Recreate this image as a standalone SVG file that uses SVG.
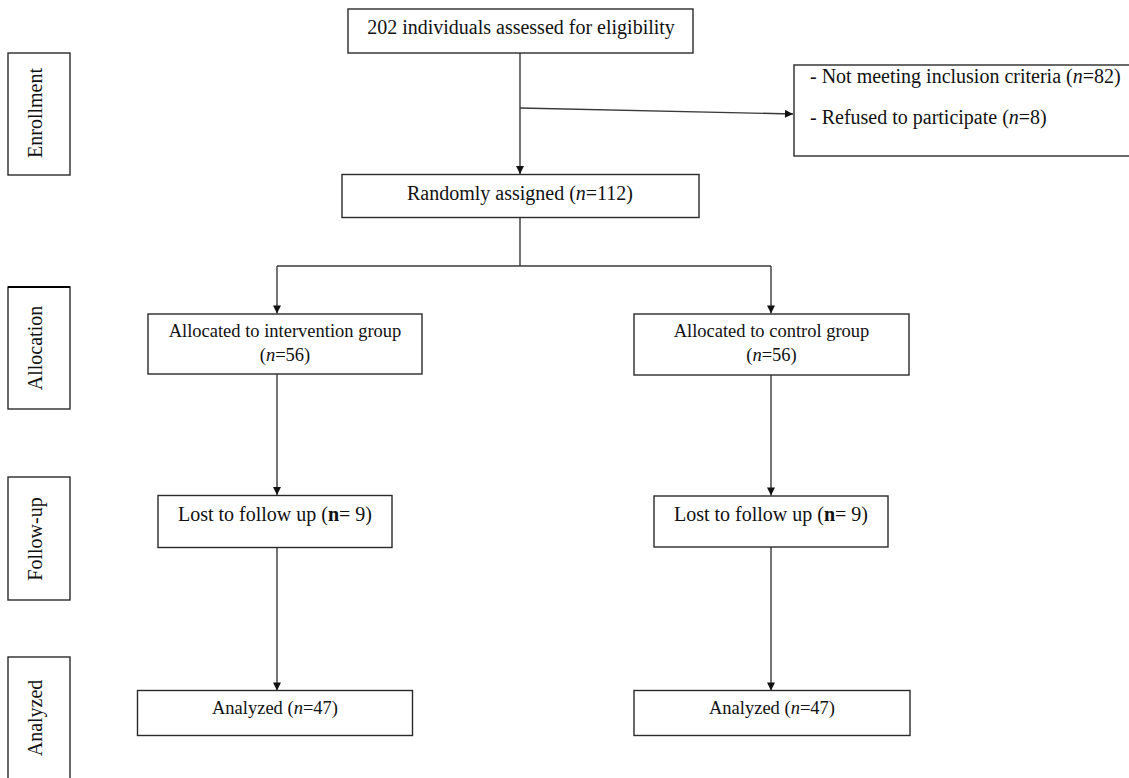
<svg xmlns="http://www.w3.org/2000/svg" width="1129" height="778" viewBox="0 0 1129 778">
<defs>
<style>
.box{fill:#fff;stroke:#2a2a2a;stroke-width:1.4}
.side{fill:#fff;stroke:#2a2a2a;stroke-width:1.4}
.t{font-family:"Liberation Serif","Times New Roman",serif;fill:#111;text-anchor:middle}
.t20{font-size:20px}
.t18{font-size:18.5px}
.lbl{font-family:"Liberation Serif","Times New Roman",serif;font-size:20px;fill:#111;text-anchor:middle}
.c{fill:none;stroke:#3a3a3a;stroke-width:1.4}
</style>
<marker id="arr" viewBox="0 0 10 10" refX="10" refY="5" markerWidth="9" markerHeight="8" markerUnits="userSpaceOnUse" orient="auto">
<path d="M0,0 L10,5 L0,10 z" fill="#111"/>
</marker>
</defs>
<rect width="1129" height="778" fill="#fff"/>

<g id="connectors">
<line class="c" x1="520" y1="53" x2="520" y2="174" marker-end="url(#arr)"/>
<line class="c" x1="520" y1="108" x2="793" y2="114" marker-end="url(#arr)"/>
<polyline class="c" points="520,217 520,266"/>
<polyline class="c" points="277,266 771,266"/>
<line class="c" x1="277" y1="266" x2="277" y2="313.5" marker-end="url(#arr)"/>
<line class="c" x1="771" y1="266" x2="771" y2="313.5" marker-end="url(#arr)"/>
<line class="c" x1="277" y1="374" x2="277" y2="495" marker-end="url(#arr)"/>
<line class="c" x1="771" y1="375" x2="771" y2="495.5" marker-end="url(#arr)"/>
<line class="c" x1="277" y1="547" x2="277" y2="690.5" marker-end="url(#arr)"/>
<line class="c" x1="771" y1="547" x2="771" y2="690.5" marker-end="url(#arr)"/>
</g>

<g id="stage-enrollment">
<rect class="side" x="8" y="53" width="62" height="122"/>
<text class="lbl" transform="translate(42,113) rotate(-90)">Enrollment</text>
</g>
<g id="stage-allocation">
<rect class="side" x="8" y="287" width="62" height="122"/>
<line x1="8" y1="287" x2="70" y2="287" stroke="#000" stroke-width="2"/>
<text class="lbl" transform="translate(42,348) rotate(-90)">Allocation</text>
</g>
<g id="stage-followup">
<rect class="side" x="8" y="477" width="62" height="123"/>
<text class="lbl" transform="translate(42,539) rotate(-90)">Follow-up</text>
</g>
<g id="stage-analyzed">
<rect class="side" x="8" y="657" width="62" height="140"/>
<text class="lbl" transform="translate(42,718) rotate(-90)">Analyzed</text>
</g>

<g id="node-assessed">
<rect class="box" x="348" y="9" width="345" height="44"/>
<text class="t t20" x="521" y="34">202 individuals assessed for eligibility</text>
</g>

<g id="node-excluded">
<rect class="box" x="794" y="65" width="345" height="91"/>
<text class="t t20" x="810" y="83" style="text-anchor:start">- Not meeting inclusion criteria (<tspan font-style="italic">n</tspan>=82)</text>
<text class="t t20" x="810" y="124" style="text-anchor:start">- Refused to participate (<tspan font-style="italic">n</tspan>=8)</text>
</g>

<g id="node-randomized">
<rect class="box" x="342" y="174.5" width="357" height="43"/>
<text class="t t20" x="520" y="200">Randomly assigned (<tspan font-style="italic">n</tspan>=112)</text>
</g>

<g id="node-intervention">
<rect class="box" x="148" y="314" width="274" height="60"/>
<text class="t t18" x="285" y="337">Allocated to intervention group</text>
<text class="t t18" x="285" y="361">(<tspan font-style="italic">n</tspan>=56)</text>
</g>

<g id="node-control">
<rect class="box" x="634" y="314" width="275" height="61"/>
<text class="t t18" x="771.5" y="337">Allocated to control group</text>
<text class="t t18" x="771.5" y="361">(<tspan font-style="italic">n</tspan>=56)</text>
</g>

<g id="node-lost-intervention">
<rect class="box" x="158" y="495.5" width="234" height="52"/>
<text class="t t20" x="275" y="521">Lost to follow up (<tspan font-weight="bold">n</tspan>= 9)</text>
</g>

<g id="node-lost-control">
<rect class="box" x="654" y="496" width="234" height="51"/>
<text class="t t20" x="771" y="521">Lost to follow up (<tspan font-weight="bold">n</tspan>= 9)</text>
</g>

<g id="node-analyzed-intervention">
<rect class="box" x="137.5" y="690.5" width="275" height="45"/>
<text class="t t18" x="275" y="714">Analyzed (<tspan font-style="italic">n</tspan>=47)</text>
</g>

<g id="node-analyzed-control">
<rect class="box" x="634" y="690.5" width="276" height="45"/>
<text class="t t18" x="772" y="714">Analyzed (<tspan font-style="italic">n</tspan>=47)</text>
</g>
</svg>
